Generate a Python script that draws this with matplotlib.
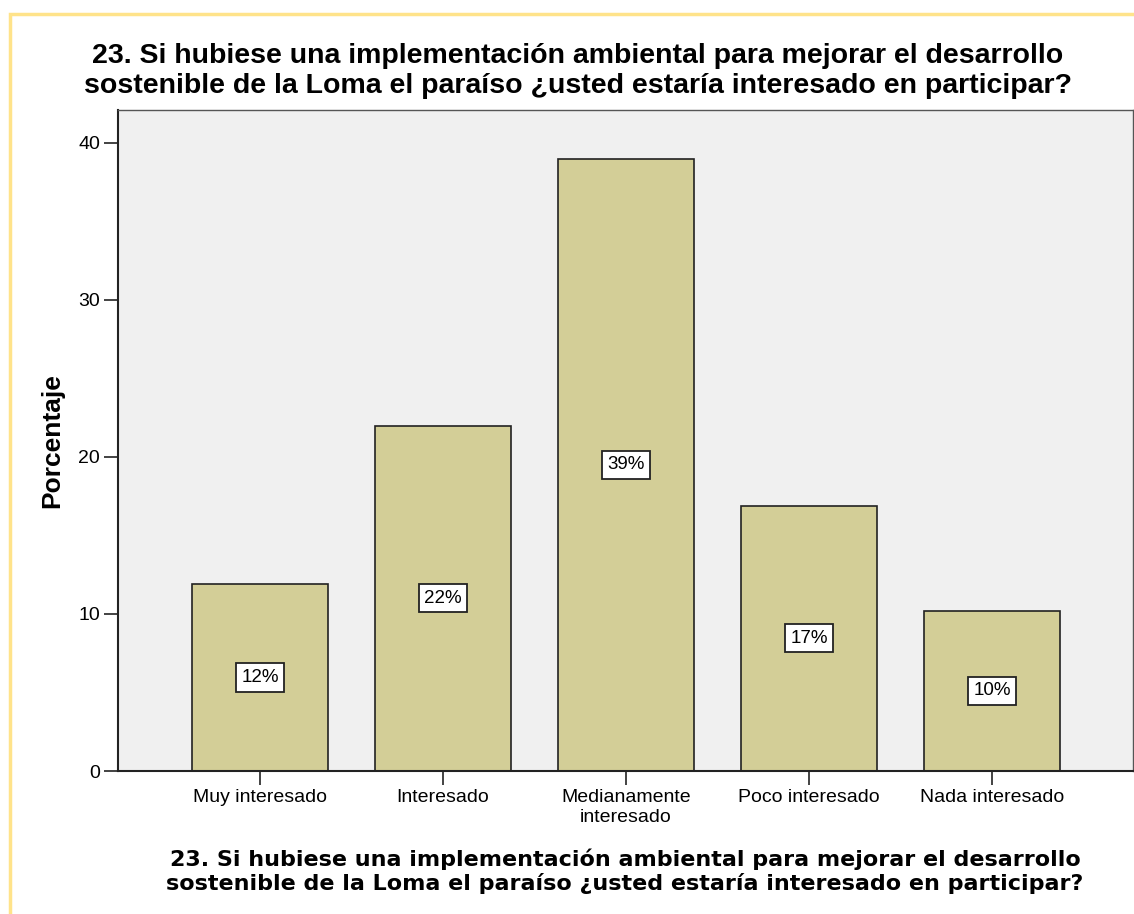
import matplotlib
matplotlib.use("Agg")
import matplotlib.pyplot as plt
from matplotlib.patches import Rectangle

categories = ["Muy interesado", "Interesado", "Medianamente\ninteresado",
              "Poco interesado", "Nada interesado"]
values = [11.9, 22.0, 39.0, 16.9, 10.2]
labels = ["12%", "22%", "39%", "17%", "10%"]
yticks = [0, 10, 20, 30, 40]
title = ("23. Si hubiese una implementación ambiental para mejorar el desarrollo\n"
         "sostenible de la Loma el paraíso ¿usted estaría interesado en participar?")

W, H = 1134, 914
fig = plt.figure(figsize=(W / 100, H / 100), dpi=100)
fig.patch.set_facecolor("white")

# yellow frame
fig.add_artist(Rectangle((10 / W, -0.01), 1.2, (H - 14) / H + 0.01, transform=fig.transFigure,
                         fill=False, edgecolor="#ffe38a", linewidth=2.5))

left, right, top, bottom = 118, 1133, 110, 771
ax = fig.add_axes([left / W, 1 - bottom / H, (right - left) / W, (bottom - top) / H])
ax.set_facecolor("#f0f0f0")

x = list(range(len(categories)))
ax.bar(x, values, width=0.745, color="#d3ce97", edgecolor="#222222", linewidth=1.2, zorder=2)
for xi, v, lab in zip(x, values, labels):
    ax.text(xi, v / 2, lab, ha="center", va="center", fontsize=13.5, family="Liberation Sans",
            bbox=dict(boxstyle="square,pad=0.3", facecolor="white", edgecolor="#222222", linewidth=1.3),
            zorder=3)

ax.set_xlim(-0.776, 4.77)
ax.set_ylim(0, 42.1)
ax.set_yticks(yticks)
ax.set_xticks(x)
ax.set_xticklabels(categories, fontsize=14, family="Liberation Sans", linespacing=1.2)
ax.set_yticklabels([str(t) for t in yticks], fontsize=14, family="Liberation Sans")
ax.tick_params(axis="both", direction="out", length=10, width=1.2, color="#222222", pad=3)
for s in ["left", "bottom"]:
    ax.spines[s].set_linewidth(1.5)
    ax.spines[s].set_color("#222222")
for s in ["top", "right"]:
    ax.spines[s].set_linewidth(1.0)
    ax.spines[s].set_color("#555555")

ax.set_ylabel("Porcentaje", fontsize=19, fontweight="bold", family="Liberation Sans")
ax.yaxis.set_label_coords(-54 / (right - left), 0.5)

fig.text(578 / W, 1 - 71 / H, title, ha="center", va="center", fontsize=20.5,
         fontweight="bold", family="Liberation Sans", linespacing=1.2)
fig.text(625 / W, 1 - 871 / H, title, ha="center", va="center", fontsize=16,
         fontweight="bold", family="DejaVu Sans", linespacing=1.2)

fig.savefig("out.png", dpi=100, facecolor="white")
